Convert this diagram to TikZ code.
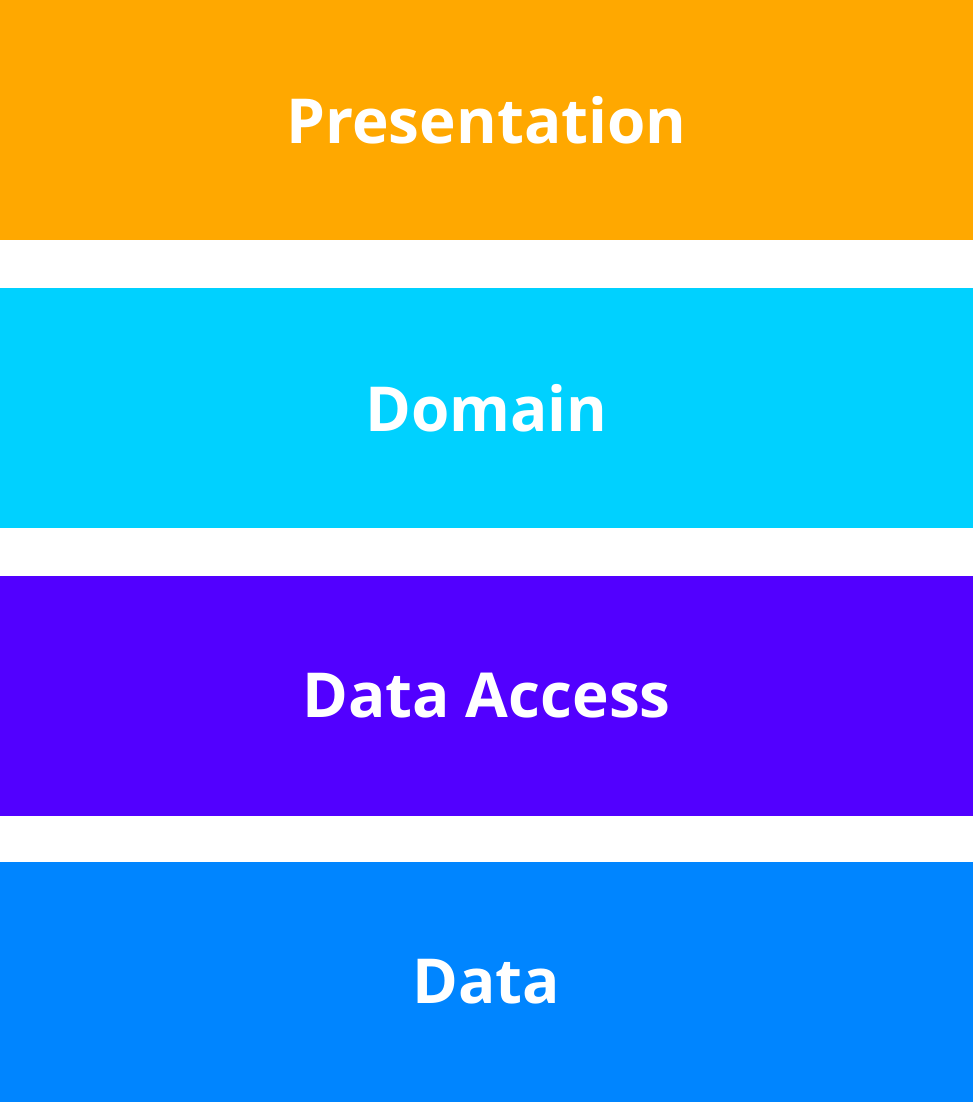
\documentclass[tikz,border=0pt]{standalone}
\usepackage{fontspec}
\setsansfont{Open Sans}
\usepackage{xcolor}
\usetikzlibrary{positioning}
\definecolor{presorange}{HTML}{FFA800}
\definecolor{domcyan}{HTML}{00D1FF}
\definecolor{accpurple}{HTML}{5200FF}
\definecolor{datablue}{HTML}{0085FF}

\begin{document}
\begin{tikzpicture}[x=1pt, y=1pt, node distance=48pt,
    layer/.style={rectangle, minimum width=973pt, minimum height=240pt, inner sep=0pt, outer sep=0pt,
        text=white, font=\sffamily\bfseries\fontsize{62}{70}\selectfont}]
    % Layers
    \node (presentation) [layer, fill=presorange, anchor=north west] at (0,1102) {Presentation};
    \node (domain) [layer, fill=domcyan, below=of presentation] {Domain};
    \node (access) [layer, fill=accpurple, below=of domain] {Data Access};
    \node (data) [layer, fill=datablue, below=46pt of access] {Data};
    \useasboundingbox (0,0) rectangle (973,1102);
\end{tikzpicture}
\end{document}
